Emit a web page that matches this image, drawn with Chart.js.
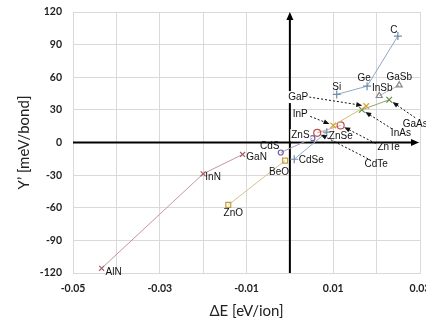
<!DOCTYPE html>
<html><head><meta charset="utf-8">
<script src="https://cdn.jsdelivr.net/npm/chart.js@4/dist/chart.umd.min.js"></script>
<style>html,body{margin:0;padding:0;background:#fff}#wrap{width:426px;height:322px}</style>
</head><body><div id="wrap"><canvas id="c" width="426" height="322"></canvas></div>
<script>
// ---- data (ΔE in eV/ion, Y' in meV/bond) ----
const nitrideNames = ['AlN','InN','GaN'];
const nitrideDE = [-0.0434, -0.0200, -0.0109];
const nitrideY = [-115.7, -28.8, -11.0];

const oxideNames = ['ZnO','BeO'];
const oxideDE = [-0.0142, -0.0011];
const oxideY = [-57.4, -16.6];

const sulfideNames = ['CdS','ZnS'];
const sulfideDE = [-0.0021, 0.0052];
const sulfideY = [-9.2, 4.0];

const selenideNames = ['CdSe','ZnSe'];
const selenideDE = [0.0010, 0.0085];
const selenideY = [-15.4, 9.5];

const tellurideNames = ['CdTe','ZnTe'];
const tellurideDE = [0.0063, 0.0117];
const tellurideY = [8.9, 15.7];

const phosphideNames = ['InP','GaP'];
const phosphideDE = [0.0100, 0.0176];
const phosphideY = [15.7, 33.5];

const arsenideNames = ['InAs','GaAs'];
const arsenideDE = [0.0166, 0.0229];
const arsenideY = [30.1, 39.3];

const antimonideNames = ['InSb','GaSb'];
const antimonideDE = [0.0206, 0.0252];
const antimonideY = [43.0, 52.8];

const groupIVNames = ['Si','Ge','C'];
const groupIVDE = [0.0108, 0.0178, 0.0249];
const groupIVY = [44.2, 51.8, 97.9];

const xTickLabels = ['-0.05','-0.03','-0.01','0.01','0.03'];
const yTickValues = [-120,-90,-60,-30,0,30,60,90,120];

// ---- label placement (pixel offsets from the marker) ----
const labelStyle = {
  AlN:{dx:12,dy:4}, InN:{dx:10,dy:3}, GaN:{dx:14,dy:3},
  ZnO:{dx:5,dy:8}, BeO:{dx:-6,dy:12},
  CdS:{dx:-11,dy:-6}, ZnS:{dx:-12,dy:-3,bg:true},
  CdSe:{dx:17,dy:1}, ZnSe:{dx:14,dy:4},
  CdTe:{dx:59,dy:31,ax:-8,ay:-5},
  ZnTe:{dx:48,dy:22,ax:-13,ay:-4},
  InP:{dx:-33,dy:-11,ax:10,ay:2},
  GaP:{dx:-68,dy:-9,ax:11,ay:0,bg:true},
  InAs:{dx:39,dy:23,ax:-9,ay:-4},
  GaAs:{dx:26,dy:24,ax:0,ay:-6},
  InSb:{dx:3,dy:-7}, GaSb:{dx:0,dy:-8},
  Si:{dx:0,dy:-7}, Ge:{dx:-3,dy:-8}, C:{dx:-4,dy:-6}
};

function pts(names, xs, ys){ return names.map((n,i)=>({x:xs[i], y:ys[i], name:n})); }
function ds(names, xs, ys, marker, lineColor, style, radius, fill){
  return {
    data: pts(names, xs, ys), showLine:true, borderColor:lineColor, borderWidth:1,
    pointStyle:style, pointRadius:radius, pointBorderColor:marker, pointBorderWidth:1.2,
    pointBackgroundColor: fill || 'rgba(255,255,255,0)', pointHoverRadius:radius
  };
}

const datasets = [
  ds(nitrideNames, nitrideDE, nitrideY, '#a3606a', '#c4959b', 'crossRot', 3.5),
  ds(oxideNames, oxideDE, oxideY, '#c49c3c', '#d8c08a', 'rect', 3.5),
  ds(phosphideNames, phosphideDE, phosphideY, '#d4a530', '#d8bb70', 'crossRot', 4),
  ds(arsenideNames, arsenideDE, arsenideY, '#5e8c46', '#88a874', 'crossRot', 4),
  ds(antimonideNames, antimonideDE, antimonideY, '#888888', '#b4b4b4', 'triangle', 3.5),
  ds(groupIVNames, groupIVDE, groupIVY, '#6d8cab', '#8ea8c2', 'cross', 4),
  ds(selenideNames, selenideDE, selenideY, '#6d8cab', '#93aeca', 'cross', 4),
  ds(sulfideNames, sulfideDE, sulfideY, '#6f60a0', '#a79cc8', 'circle', 2.5),
  ds(tellurideNames, tellurideDE, tellurideY, '#c25050', '#dca4a4', 'circle', 3.5)
];

const axesPlugin = {
  id:'axes',
  beforeDatasetsDraw(chart){
    const {ctx, chartArea:a, scales:{x,y}} = chart;
    const x0 = x.getPixelForValue(0), y0 = y.getPixelForValue(0);
    ctx.save();
    ctx.strokeStyle = '#000'; ctx.fillStyle = '#000'; ctx.lineWidth = 2;
    ctx.beginPath(); ctx.moveTo(a.left, y0); ctx.lineTo(a.right-6, y0); ctx.stroke();
    ctx.beginPath(); ctx.moveTo(a.right-1, y0); ctx.lineTo(a.right-9, y0-3.5); ctx.lineTo(a.right-9, y0+3.5); ctx.closePath(); ctx.fill();
    ctx.beginPath(); ctx.moveTo(x0, a.bottom); ctx.lineTo(x0, a.top+6); ctx.stroke();
    ctx.beginPath(); ctx.moveTo(x0, a.top); ctx.lineTo(x0-3.5, a.top+8); ctx.lineTo(x0+3.5, a.top+8); ctx.closePath(); ctx.fill();
    ctx.restore();
  }
};

const labelPlugin = {
  id:'labels',
  afterDatasetsDraw(chart){
    const ctx = chart.ctx;
    ctx.save();
    ctx.font = '10px "Liberation Sans", Arial, sans-serif';
    ctx.textAlign = 'center'; ctx.textBaseline = 'middle';
    chart.data.datasets.forEach((d, di) => {
      const meta = chart.getDatasetMeta(di);
      d.data.forEach((p, i) => {
        const el = meta.data[i];
        const st = labelStyle[p.name]; if(!st) return;
        const lx = el.x + st.dx, ly = el.y + st.dy;
        if (st.ax !== undefined) {
          const sx = lx + st.ax, sy = ly + st.ay;
          const vx = el.x - sx, vy = el.y - sy, len = Math.hypot(vx, vy);
          const ux = vx/len, uy = vy/len;
          const ex = el.x - ux*4, ey = el.y - uy*4;
          ctx.strokeStyle = '#111'; ctx.lineWidth = 1; ctx.setLineDash([2,2]);
          ctx.beginPath(); ctx.moveTo(sx, sy); ctx.lineTo(ex - ux*4, ey - uy*4); ctx.stroke();
          ctx.setLineDash([]);
          ctx.fillStyle = '#111';
          ctx.beginPath(); ctx.moveTo(ex, ey);
          ctx.lineTo(ex - ux*6 - uy*2.5, ey - uy*6 + ux*2.5);
          ctx.lineTo(ex - ux*6 + uy*2.5, ey - uy*6 - ux*2.5);
          ctx.closePath(); ctx.fill();
        }
        if (st.bg) {
          const w = ctx.measureText(p.name).width;
          ctx.fillStyle = '#fff'; ctx.fillRect(lx - w/2 - 1, ly - 6, w + 2, 12);
        }
        ctx.fillStyle = '#111';
        ctx.fillText(p.name, lx, ly);
      });
    });
    ctx.restore();
  }
};

new Chart(document.getElementById('c'), {
  type:'scatter',
  data:{datasets},
  options:{
    responsive:false, animation:false, devicePixelRatio:1,
    layout:{padding:{top:12, right:6, left:0, bottom:0}},
    plugins:{legend:{display:false}, tooltip:{enabled:false}},
    scales:{
      x:{
        type:'linear', min:-0.05, max:0.03,
        afterFit(s){ s.height = 49; s.paddingLeft = 0; s.paddingRight = 0; },
        grid:{color:'#d9d9d9', drawTicks:false, lineWidth:1},
        border:{color:'#d9d9d9'},
        ticks:{stepSize:0.01, autoSkip:false, maxRotation:0, padding:9, color:'#222',
          font:{family:'Lato', weight:'bold', size:10.5},
          callback(v){ const s = (Math.round(v*100)/100).toFixed(2); return xTickLabels.includes(s) ? s : ''; }},
        title:{display:true, text:'ΔE [eV/ion]', color:'#222', font:{family:'Lato', size:15}, padding:{top:0,bottom:2}}
      },
      y:{
        type:'linear', min:-120, max:120,
        afterFit(s){ s.width = 73; s.paddingTop = 0; s.paddingBottom = 0; },
        afterBuildTicks(s){ s.ticks = yTickValues.map(v=>({value:v})); },
        grid:{color:'#d9d9d9', drawTicks:false, lineWidth:1},
        border:{color:'#d9d9d9'},
        ticks:{padding:11, color:'#222', font:{family:'Lato', weight:'bold', size:10.5}},
        title:{display:true, text:'Y’ [meV/bond]', color:'#222', font:{family:'Lato', size:15}, padding:{top:15,bottom:0}}
      }
    }
  },
  plugins:[axesPlugin, labelPlugin]
});
</script></body></html>
